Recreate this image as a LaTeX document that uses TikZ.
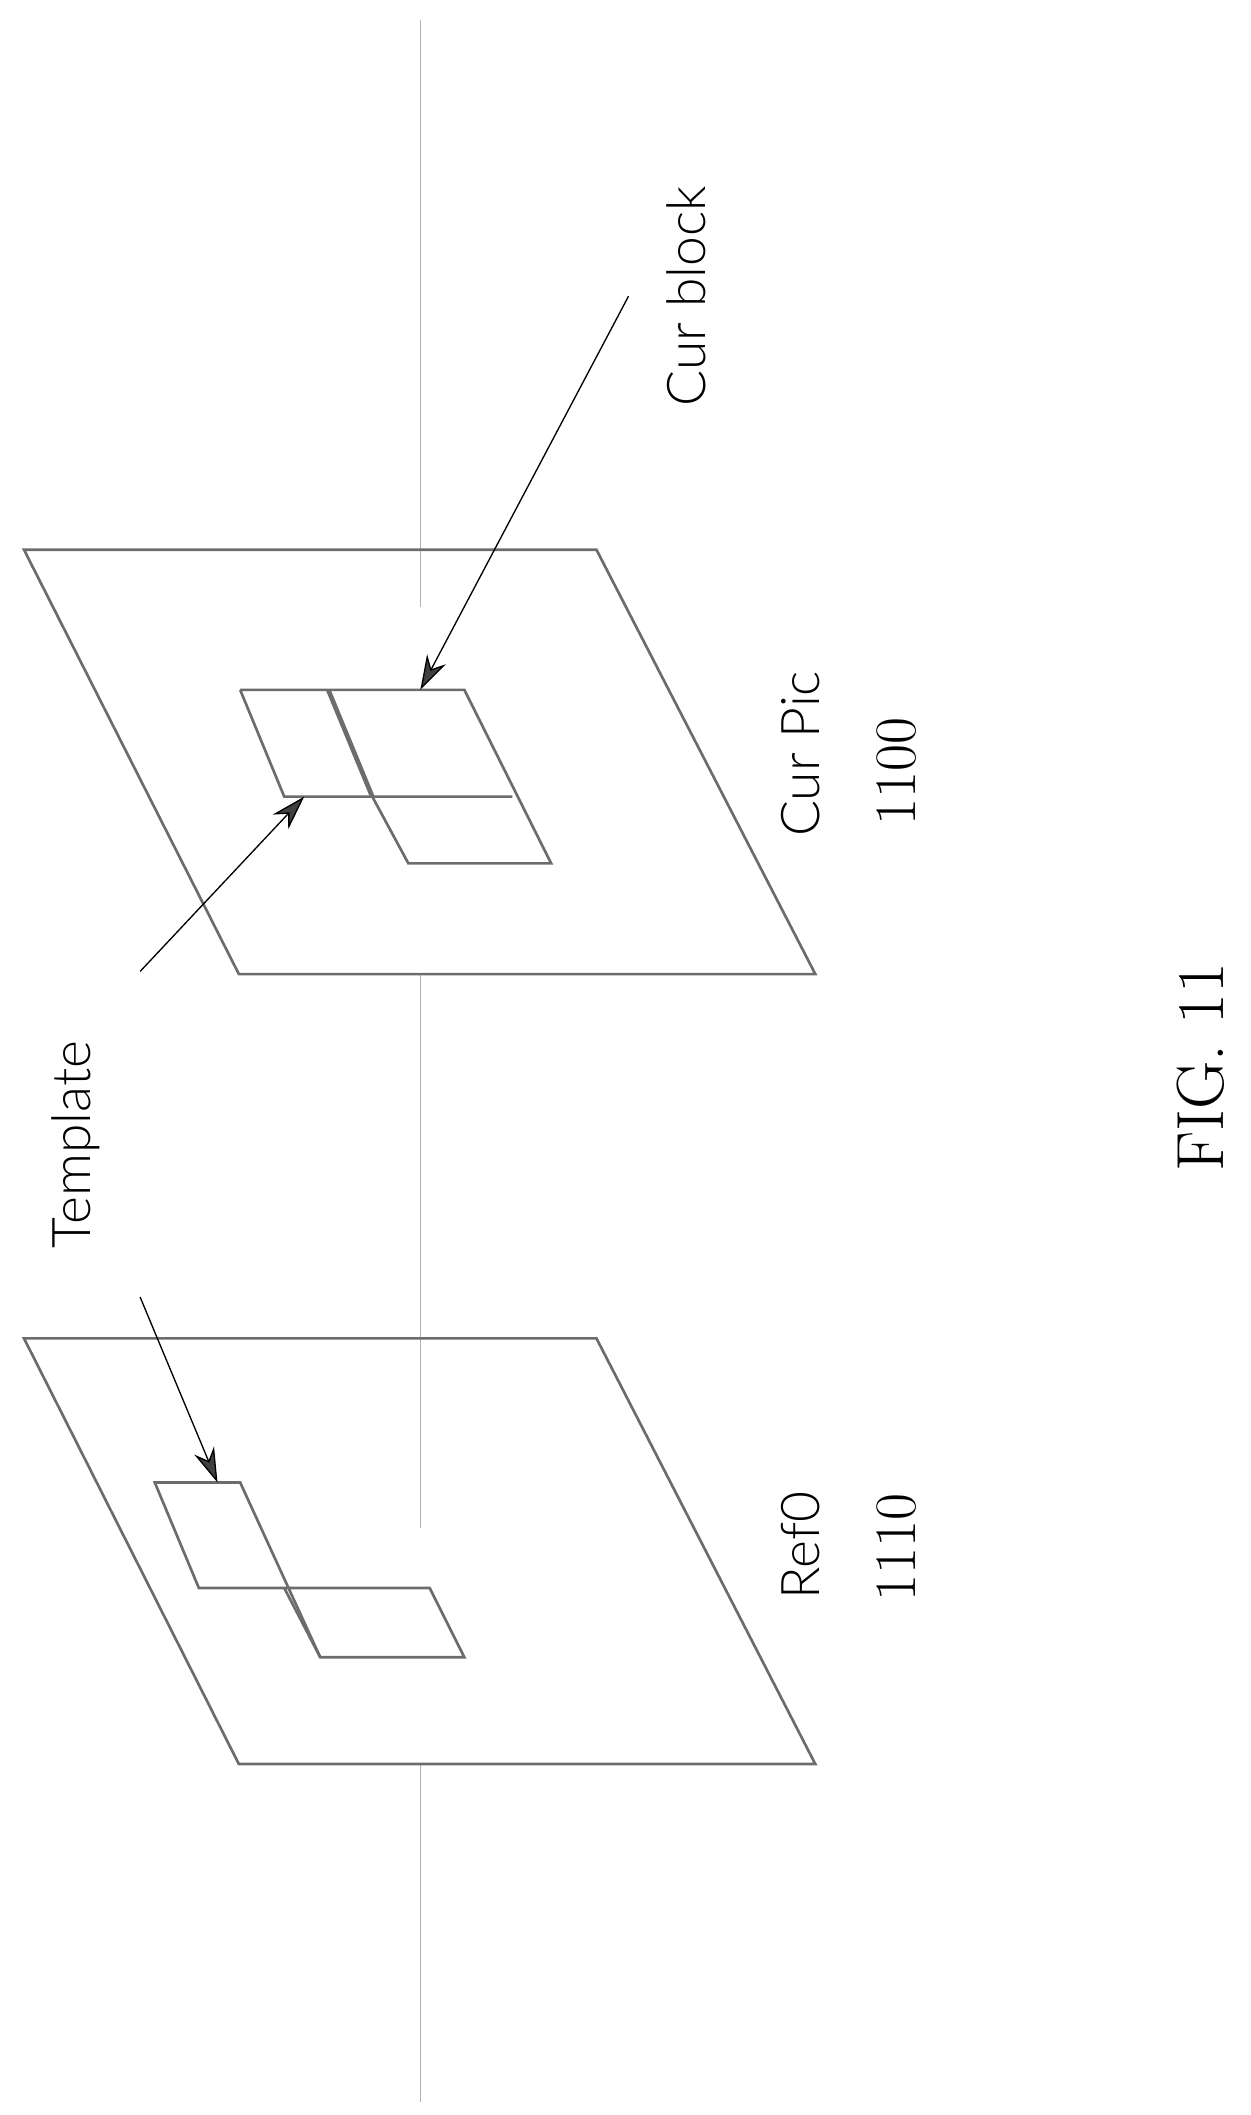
\documentclass[tikz,border=0pt]{standalone}
\usepackage{fontspec}
\setsansfont{Lato Light}
\usetikzlibrary{arrows.meta}
\begin{document}
\begin{tikzpicture}[x=1pt,y=-1pt,
    plane/.style={draw=gray!85!black, line width=2pt, line join=miter},
    blk/.style={draw=gray!85!black, line width=2pt},
    axisline/.style={draw=gray!60, line width=0.8pt},
    pointer/.style={draw=black, line width=1pt, -{Stealth[length=26pt,width=16pt,fill=gray!50!black]}},
    lbl/.style={font=\sffamily\fontsize{40}{48}\selectfont, rotate=90, inner sep=0pt}]
        \useasboundingbox (0,0) rectangle (937,1585);

        % axis through the pictures
        \coordinate (AX1) at (315,15);
        \coordinate (AX2) at (315,455);
        \coordinate (AX3) at (315,730);
        \coordinate (AX4) at (315,1145);
        \coordinate (AX5) at (315,1322);
        \coordinate (AX6) at (315,1575);
        \draw [axisline] (AX1) -- (AX2);
        \draw [axisline] (AX3) -- (AX4);
        \draw [axisline] (AX5) -- (AX6);

        % Cur Pic
        \draw [plane] (18,412) -- (447,412) -- (611,730) -- (179,730) -- cycle;
        \draw [blk] (180,517) -- (348,517) -- (413,647) -- (306,647) -- (279,597);
        \draw [blk] (180,517) -- (213,597) -- (384,597);
        \draw [blk, line width=3.5pt] (246,517) -- (279,597);
        \coordinate (CB) at (315,517);
        \coordinate (TC) at (228,597);

        % Ref0
        \draw [plane] (18,1003) -- (447,1003) -- (611,1322) -- (179,1322) -- cycle;
        \draw [blk] (116,1111) -- (180,1111) -- (240,1242) -- (348,1242) -- (322,1190) -- (149,1190) -- cycle;
        \draw [blk] (213,1190) -- (240,1242);
        \coordinate (TR) at (163,1111);

        % labels
        \node [lbl] (curblock) at (514,222) {Cur block};
        \node [lbl] (template) at (57,858) {Template};
        \node [lbl] (curpic) at (600,565) {Cur Pic};
        \node [lbl, font=\fontsize{44}{52}\selectfont] (curnum) at (672,578) {1100};
        \node [lbl] (refzero) at (600,1158) {Ref0};
        \node [lbl, font=\fontsize{44}{52}\selectfont] (refnum) at (672,1160) {1110};
        \node [rotate=90, font=\fontsize{50}{60}\selectfont] (fig) at (900,800) {FIG. 11};

        % pointers
        \coordinate (CBS) at (471,222);
        \coordinate (TCS) at (105,728);
        \coordinate (TRS) at (105,972);
        \draw [pointer] (CBS) -- (CB);
        \draw [pointer] (TCS) -- (TC);
        \draw [pointer] (TRS) -- (TR);
\end{tikzpicture}
\end{document}
